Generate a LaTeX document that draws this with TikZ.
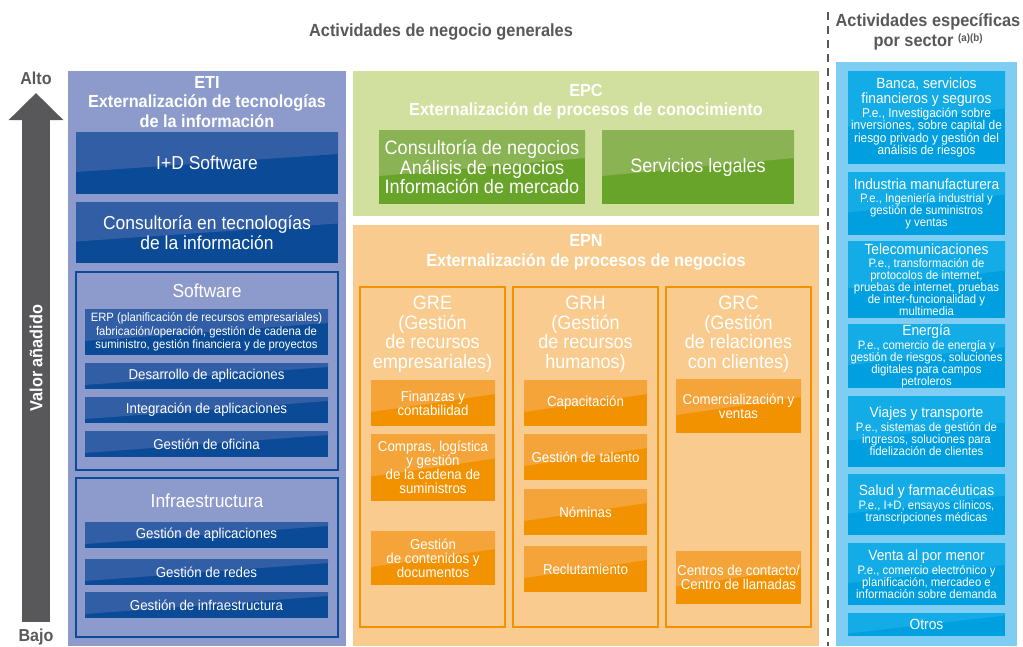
\documentclass[tikz,border=0pt]{standalone}
\usepackage{fontspec}
\setmainfont{Liberation Sans}[FakeStretch=0.93]

\definecolor{etipanel}{HTML}{8D9BCC}
\definecolor{etidark}{HTML}{0B4A96}
\definecolor{etilight}{HTML}{325EA6}
\definecolor{epcpanel}{HTML}{D1E09E}
\definecolor{epcdark}{HTML}{69A42A}
\definecolor{epclight}{HTML}{8AB353}
\definecolor{epnpanel}{HTML}{FACB8E}
\definecolor{epndark}{HTML}{F39200}
\definecolor{epnlight}{HTML}{F5A43A}
\definecolor{secpanel}{HTML}{80CDF3}
\definecolor{secdark}{HTML}{00A0E0}
\definecolor{seclight}{HTML}{14ACE6}
\definecolor{headgray}{HTML}{58585A}

\newcommand{\sechd}{\fontsize{14.8}{13.5}\selectfont}

\usetikzlibrary{arrows.meta}

\tikzset{
  every node/.style={inner sep=0pt, outer sep=0pt, align=center},
  wh/.style 2 args={minimum width=#1pt, minimum height=#2pt},
  shadebox/.style 2 args={fill=#1, text=white,
    path picture={\fill[#2] (path picture bounding box.north west)
      -- (path picture bounding box.north east)
      -- ([yshift=9pt]path picture bounding box.east)
      -- ([yshift=-9pt]path picture bounding box.west) -- cycle;}},
  headtext/.style={text=headgray, font=\bfseries\fontsize{17.6}{20}\selectfont},
  titletext/.style={text=white, font=\bfseries\fontsize{17.5}{19.5}\selectfont},
  coltext/.style={text=white, font=\fontsize{19.4}{19.5}\selectfont},
  bigtext/.style={font=\fontsize{18.8}{19.5}\selectfont},
  smalltext/.style={font=\fontsize{14.3}{14}\selectfont},
  sectext/.style={font=\fontsize{12.2}{12}\selectfont},
  frame/.style={draw=#1, line width=2pt},
}

\begin{document}
\begin{tikzpicture}[x=1pt,y=-1pt]
  \useasboundingbox (0,0) rectangle (1023,646);

  % encabezados
  \node[headtext] (gen) at (441,32) {Actividades de negocio generales};
  \node[headtext] (spec) at (928,32) {Actividades específicas\\por sector {\fontsize{10.5}{8}\selectfont\raisebox{5pt}{(a)(b)}}};
  \coordinate (dtop) at (828,12);
  \coordinate (dbot) at (828,646);
  \draw[headgray, line width=2.5pt, dash pattern=on 8pt off 6pt] (dtop) -- (dbot);

  % valor
  \node[headtext, font=\bfseries\fontsize{17.3}{18}\selectfont] (alto) at (36,78) {Alto};
  \node[headtext, font=\bfseries\fontsize{17.3}{18}\selectfont] (bajo) at (36,637) {Bajo};
  \coordinate (vbot) at (36,622);
  \coordinate (vtop) at (36,93);
  \draw[headgray, line width=28pt, -{Triangle[width=53pt,length=27pt]}] (vbot) -- (vtop);
  \node[titletext, rotate=90] (valor) at (36,358) {Valor añadido};

  % ETI
  \node[fill=etipanel, wh={278}{575}] (eti) at (207,358.5) {};
  \node[titletext] (etit) at (207,102) {ETI\\Externalización de tecnologías\\de la información};
  \node[shadebox={etidark}{etilight}, wh={262}{62}, bigtext] (ids) at (207,163) {I+D Software};
  \node[shadebox={etidark}{etilight}, wh={262}{61}, bigtext] (cti) at (207,232.5) {Consultoría en tecnologías\\de la información};
  \node[frame=etidark, wh={262}{198}] (sw) at (207,371) {};
  \node[coltext, font=\fontsize{18.8}{19.5}\selectfont] (swt) at (207,291) {Software};
  \node[shadebox={etidark}{etilight}, wh={243}{46}, font=\fontsize{12.1}{13.5}\selectfont] (erp) at (206.5,332) {ERP (planificación de recursos empresariales)\\fabricación/operación, gestión de cadena de\\suministro, gestión financiera y de proyectos};
  \node[shadebox={etidark}{etilight}, wh={243}{26}, smalltext] (desa) at (206.5,376) {Desarrollo de aplicaciones};
  \node[shadebox={etidark}{etilight}, wh={243}{26}, smalltext] (inte) at (206.5,410) {Integración de aplicaciones};
  \node[shadebox={etidark}{etilight}, wh={243}{26}, smalltext] (ofi) at (206.5,444) {Gestión de oficina};
  \node[frame=etidark, wh={262}{159}] (inf) at (207,557.5) {};
  \node[coltext, font=\fontsize{18.8}{19.5}\selectfont] (inft) at (207,501) {Infraestructura};
  \node[shadebox={etidark}{etilight}, wh={243}{26}, smalltext] (gapl) at (206.5,535) {Gestión de aplicaciones};
  \node[shadebox={etidark}{etilight}, wh={243}{26}, smalltext] (gred) at (206.5,572) {Gestión de redes};
  \node[shadebox={etidark}{etilight}, wh={243}{26}, smalltext] (ginf) at (206.5,605) {Gestión de infraestructura};

  % EPC
  \node[fill=epcpanel, wh={466}{145}] (epc) at (586,143.5) {};
  \node[titletext] (epct) at (586,101.5) {EPC\\Externalización de procesos de conocimiento};
  \node[shadebox={epcdark}{epclight}, wh={206}{74}, bigtext, font=\fontsize{19.4}{19.5}\selectfont] (cons) at (482,167) {Consultoría de negocios\\Análisis de negocios\\Información de mercado};
  \node[shadebox={epcdark}{epclight}, wh={192}{74}, bigtext, font=\fontsize{19.4}{19.5}\selectfont] (leg) at (698,167) {Servicios legales};

  % EPN
  \node[fill=epnpanel, wh={466}{421}] (epn) at (586,435.5) {};
  \node[titletext] (epnt) at (586,252.5) {EPN\\Externalización de procesos de negocios};
  \node[frame=epndark, wh={145}{340}] (gre) at (432.5,456.5) {};
  \node[frame=epndark, wh={145}{340}] (grh) at (585.5,456.5) {};
  \node[frame=epndark, wh={145}{340}] (grc) at (738.5,456.5) {};
  \node[coltext] (gret) at (432.5,334) {GRE\\(Gestión\\de recursos\\empresariales)};
  \node[coltext] (grht) at (585.5,334) {GRH\\(Gestión\\de recursos\\humanos)};
  \node[coltext] (grct) at (738.5,334) {GRC\\(Gestión\\de relaciones\\con clientes)};
  \node[shadebox={epndark}{epnlight}, wh={124}{46}, smalltext] (fin) at (433,403) {Finanzas y\\contabilidad};
  \node[shadebox={epndark}{epnlight}, wh={124}{67}, smalltext] (comp) at (433,467.5) {Compras, logística\\y gestión\\de la cadena de\\suministros};
  \node[shadebox={epndark}{epnlight}, wh={124}{54}, smalltext] (cont) at (433,558) {Gestión\\de contenidos y\\documentos};
  \node[shadebox={epndark}{epnlight}, wh={123}{46}, smalltext] (cap) at (585.5,403) {Capacitación};
  \node[shadebox={epndark}{epnlight}, wh={123}{46}, smalltext] (tal) at (585.5,457) {Gestión de talento};
  \node[shadebox={epndark}{epnlight}, wh={123}{46}, smalltext] (nom) at (585.5,512) {Nóminas};
  \node[shadebox={epndark}{epnlight}, wh={123}{46}, smalltext] (rec) at (585.5,569) {Reclutamiento};
  \node[shadebox={epndark}{epnlight}, wh={125}{54}, smalltext] (com) at (738.5,406) {Comercialización y\\ventas};
  \node[shadebox={epndark}{epnlight}, wh={125}{53}, smalltext] (cen) at (738.5,577.5) {Centros de contacto/\\Centro de llamadas};

  % sectores
  \node[fill=secpanel, wh={181}{584}] (sec) at (926.5,354) {};
  \node[shadebox={secdark}{seclight}, wh={157}{93}, font=\fontsize{12.8}{12.3}\selectfont] (ban) at (926.5,117.5) {\sechd Banca, servicios\\[1pt]\sechd financieros y seguros\\[1pt]P.e., Investigación sobre\\inversiones, sobre capital de\\riesgo privado y gestión del\\análisis de riesgos};
  \node[shadebox={secdark}{seclight}, wh={157}{63}, sectext] (ind) at (926.5,203.5) {\sechd Industria manufacturera\\[1pt]P.e., Ingeniería industrial y\\gestión de suministros\\y ventas};
  \node[shadebox={secdark}{seclight}, wh={157}{77}, sectext] (tel) at (926.5,279.5) {\sechd Telecomunicaciones\\[1pt]P.e., transformación de\\protocolos de internet,\\pruebas de internet, pruebas\\de inter-funcionalidad y\\multimedia};
  \node[shadebox={secdark}{seclight}, wh={157}{64}, sectext] (ene) at (926.5,356) {\sechd Energía\\[1pt]P.e., comercio de energía y\\gestión de riesgos, soluciones\\digitales para campos\\petroleros};
  \node[shadebox={secdark}{seclight}, wh={157}{71}, sectext] (via) at (926.5,431.5) {\sechd Viajes y transporte\\[1pt]P.e., sistemas de gestión de\\ingresos, soluciones para\\fidelización de clientes};
  \node[shadebox={secdark}{seclight}, wh={157}{61}, sectext] (sal) at (926.5,504.5) {\sechd Salud y farmacéuticas\\[1pt]P.e., I+D, ensayos clínicos,\\transcripciones médicas};
  \node[shadebox={secdark}{seclight}, wh={157}{62}, sectext] (ven) at (926.5,574) {\sechd Venta al por menor\\[1pt]P.e., comercio electrónico y\\planificación, mercadeo e\\información sobre demanda};
  \node[shadebox={secdark}{seclight}, wh={157}{23}, font=\sechd] (otr) at (926.5,624.5) {Otros};
\end{tikzpicture}
\end{document}
